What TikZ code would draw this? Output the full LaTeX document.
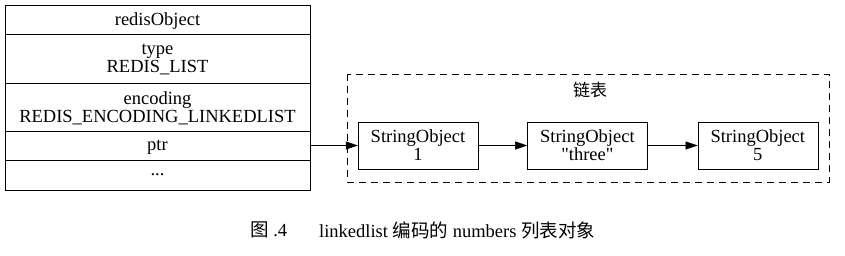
\documentclass[tikz,border=0pt]{standalone}
\usepackage{fontspec}
\setmainfont{Liberation Serif}[Ligatures=TeXOff]
\newfontfamily\cjk{Noto Sans CJK SC}
\usetikzlibrary{positioning,arrows.meta}

\begin{document}
\begin{tikzpicture}[x=1pt, y=-1pt, >={Triangle[length=12pt,width=8pt]},
    every node/.style={inner sep=2pt, align=center, font=\fontsize{18.5}{18}\selectfont},
    field/.style={draw, minimum width=305pt, text depth=0pt},
    strobj/.style={draw, minimum width=120pt, minimum height=47pt, text depth=0pt}]
  \useasboundingbox (0,0) rectangle (845,256);
  % redisObject table
  \node (robj) [field, minimum height=29pt] at (157.5,19.5) {redisObject};
  \node (type) [field, minimum height=49pt] at (157.5,58.5) {type\\REDIS\_LIST};
  \node (enc)  [field, minimum height=48pt] at (157.5,107) {encoding\\REDIS\_ENCODING\_LINKEDLIST};
  \node (ptr)  [field, minimum height=29pt] at (157.5,145.5) {ptr};
  \node (etc)  [field, minimum height=30pt] at (157.5,175) {...};
  % linked list
  \draw[dashed, dash pattern=on 7pt off 5pt] (347,74) rectangle (829,182);
  \node (title) at (590,90) {\cjk\fontsize{17}{17}\selectfont 链表};
  \node (s1) [strobj] at (418,145.5) {StringObject\\1};
  \node (s2) [strobj, right=49pt of s1] {StringObject\\"three"};
  \node (s3) [strobj, right=50pt of s2] {StringObject\\5};
  \draw[->] (ptr) -- (s1);
  \draw[->] (s1) -- (s2);
  \draw[->] (s2) -- (s3);
  % caption
  \node (fig) [anchor=west] at (248,230) {{\cjk 图} .4};
  \node (cap) [anchor=west] at (317,230) {linkedlist {\cjk 编码的} numbers {\cjk 列表对象}};
\end{tikzpicture}
\end{document}
